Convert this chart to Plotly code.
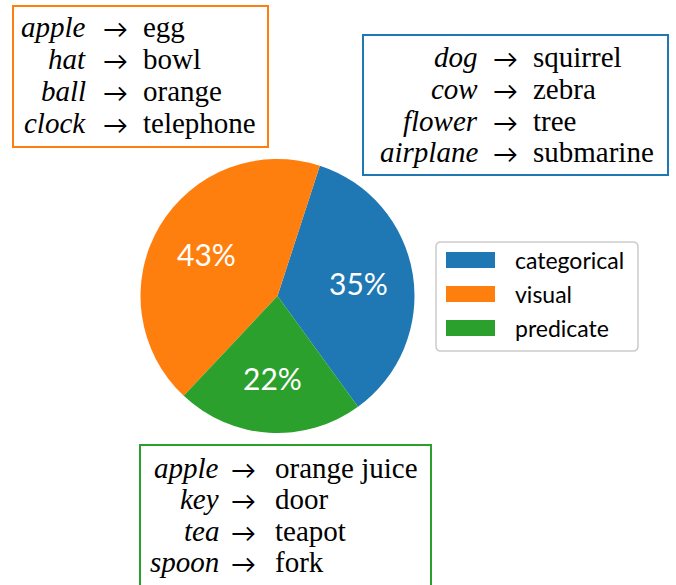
import math
import plotly.graph_objects as go

W, H = 676, 585

labels = ["categorical", "visual", "predicate"]
shares = [35, 43, 22]
colors = ["#1f77b4", "#ff7f0e", "#2ca02c"]

visual_src = ["apple", "hat", "ball", "clock"]
visual_dst = ["egg", "bowl", "orange", "telephone"]
categorical_src = ["dog", "cow", "flower", "airplane"]
categorical_dst = ["squirrel", "zebra", "tree", "submarine"]
predicate_src = ["apple", "key", "tea", "spoon"]
predicate_dst = ["orange juice", "door", "teapot", "fork"]


def px(x):
    return x / W


def py(y):
    return 1 - y / H


fig = go.Figure()

# pie centre ~(277, 296) px, radius ~137 px
cx, cy, r = 277.5, 296, 137
start = 18  # degrees clockwise from 12 o'clock
fig.add_trace(
    go.Pie(
        labels=labels,
        values=shares,
        marker=dict(colors=colors),
        sort=False,
        direction="counterclockwise",
        rotation=start,
        textinfo="none",
        showlegend=False,
        hoverinfo="label+percent",
        domain=dict(x=[px(cx - r), px(cx + r)], y=[py(cy + r), py(cy - r)]),
    )
)

shapes = []
annotations = []

# percentage labels at 0.6 of the radius, like matplotlib's autopct
total = sum(shares)
first_end = start + 360 * shares[0] / total
mids = [(start + first_end) / 2]
edge = start
for v in shares[1:]:
    span = 360 * v / total
    mids.append(edge - span / 2)
    edge -= span
for v, a in zip(shares, mids):
    t = math.radians(a)
    annotations.append(dict(
        x=px(cx + 0.6 * r * math.sin(t)), y=py(cy - 0.6 * r * math.cos(t)),
        xref="paper", yref="paper", showarrow=False,
        text=f"{round(100 * v / total)}%", xanchor="center", yanchor="middle",
        font=dict(family="Lato", size=30, color="white"),
    ))

serif = "Liberation Serif"
fs = 29


def word_box(src, dst, box, color, col_right, arrow_x, col_left, rows_y):
    x0, y0, x1, y1 = box
    shapes.append(dict(
        type="rect", xref="paper", yref="paper",
        x0=px(x0), x1=px(x1), y0=py(y1), y1=py(y0),
        line=dict(color=color, width=2), fillcolor="white", layer="above",
    ))
    for s, d, y in zip(src, dst, rows_y):
        annotations.append(dict(
            x=px(col_right), y=py(y), xref="paper", yref="paper",
            text="<i>" + s + "</i>", showarrow=False, xanchor="right", yanchor="middle",
            font=dict(family=serif, size=fs, color="black"),
        ))
        annotations.append(dict(
            x=px(arrow_x), y=py(y + 1), xref="paper", yref="paper",
            text="→", showarrow=False, xanchor="center", yanchor="middle",
            font=dict(family="Lato", size=25, color="black"),
        ))
        annotations.append(dict(
            x=px(col_left), y=py(y), xref="paper", yref="paper",
            text=d, showarrow=False, xanchor="left", yanchor="middle",
            font=dict(family=serif, size=fs, color="black"),
        ))


word_box(visual_src, visual_dst, (13, 6, 268, 147), colors[1],
         88, 115, 141, [27, 59, 91, 123])
word_box(categorical_src, categorical_dst, (363, 35, 668, 175), colors[0],
         480, 505, 531, [57, 89, 121, 152])
word_box(predicate_src, predicate_dst, (140, 445, 431, 610), colors[2],
         221, 243, 273, [468, 499, 531, 562])

# legend box with rounded corners
lx0, ly0, lx1, ly1, rr = 436, 242, 638, 351, 5
path = (
    f"M{px(lx0 + rr)},{py(ly0)} L{px(lx1 - rr)},{py(ly0)} "
    f"Q{px(lx1)},{py(ly0)} {px(lx1)},{py(ly0 + rr)} "
    f"L{px(lx1)},{py(ly1 - rr)} Q{px(lx1)},{py(ly1)} {px(lx1 - rr)},{py(ly1)} "
    f"L{px(lx0 + rr)},{py(ly1)} Q{px(lx0)},{py(ly1)} {px(lx0)},{py(ly1 - rr)} "
    f"L{px(lx0)},{py(ly0 + rr)} Q{px(lx0)},{py(ly0)} {px(lx0 + rr)},{py(ly0)} Z"
)
shapes.append(dict(type="path", xref="paper", yref="paper", path=path,
                   line=dict(color="#cccccc", width=1.5), fillcolor="rgba(255,255,255,0.8)"))

for i, (lab, col) in enumerate(zip(labels, colors)):
    yc = 260 + i * 34
    shapes.append(dict(
        type="rect", xref="paper", yref="paper",
        x0=px(446), x1=px(495), y0=py(yc + 8), y1=py(yc - 8),
        line=dict(width=0), fillcolor=col,
    ))
    annotations.append(dict(
        x=px(513), y=py(yc), xref="paper", yref="paper",
        text=lab, showarrow=False, xanchor="left", yanchor="middle",
        font=dict(family="Lato", size=23, color="black"),
    ))

fig.update_layout(
    width=W,
    height=H,
    margin=dict(l=0, r=0, t=0, b=0),
    paper_bgcolor="white",
    plot_bgcolor="white",
    shapes=shapes,
    annotations=annotations,
)

# drop the page's default body margin so the figure sits at the window corner
fig.write_html("out.html", config={"displayModeBar": False},
               post_script="document.body.style.margin='0px';")
